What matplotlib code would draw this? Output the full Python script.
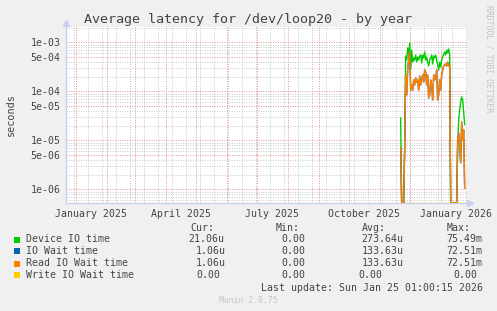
import matplotlib
matplotlib.use('Agg')
import matplotlib.pyplot as plt
from matplotlib.patches import Rectangle
import numpy as np
import pandas as pd

# daily averages in seconds, 2025-11-22 .. 2026-01-25 (nothing before)
days = pd.date_range('2025-11-22', '2026-01-25', freq='D')
device_io = [
    2.88e-5, 0, 0, 0, 7.0e-6, 5.30e-4, 4.40e-4, 7.72e-4, 5.56e-4, 9.77e-4,
    2.75e-4, 7.03e-4, 4.00e-4, 4.83e-4, 4.40e-4, 5.56e-4, 4.00e-4, 5.06e-4, 4.40e-4, 5.30e-4,
    5.56e-4, 3.82e-4, 5.56e-4, 4.83e-4, 6.40e-4, 4.40e-4, 5.06e-4, 4.00e-4, 3.31e-4, 4.40e-4,
    4.83e-4, 5.56e-4, 3.64e-4, 5.30e-4, 4.83e-4, 5.56e-4, 4.40e-4, 3.48e-4, 2.75e-4, 4.00e-4,
    3.16e-4, 4.40e-4, 5.30e-4, 5.56e-4, 6.40e-4, 5.56e-4, 7.03e-4, 6.10e-4, 7.37e-4, 5.82e-4,
    0, 0, 0, 0, 0, 0, 0,
    7.4e-6, 2.62e-5, 4.19e-5, 6.11e-5, 7.73e-5, 6.71e-5, 3.82e-5, 2.106e-5,
]
read_io_wait = [
    7.0e-6, 0, 0, 0, 7.0e-6, 2.07e-4, 8.49e-5, 2.75e-4, 4.40e-4, 6.40e-4,
    1.07e-4, 1.36e-4, 1.07e-4, 1.72e-4, 1.36e-4, 1.89e-4, 1.56e-4, 1.72e-4, 1.07e-4, 2.07e-4,
    1.36e-4, 1.72e-4, 2.17e-4, 1.56e-4, 2.75e-4, 2.50e-4, 1.36e-4, 2.17e-4, 7.37e-5, 8.49e-5,
    1.72e-4, 1.36e-4, 6.71e-5, 2.17e-4, 1.72e-4, 1.89e-4, 2.75e-4, 6.71e-5, 8.49e-5, 1.72e-4,
    1.07e-4, 2.17e-4, 2.75e-4, 3.31e-4, 3.48e-4, 3.64e-4, 3.31e-4, 4.00e-4, 3.31e-4, 3.48e-4,
    0, 0, 0, 0, 0, 0, 0,
    1.02e-5, 1.42e-5, 8.1e-6, 3.5e-6, 2.39e-5, 1.02e-5, 1.64e-5, 1.06e-6,
]
io_wait = list(read_io_wait)
write_io_wait = [0.0] * len(days)

names = ['Device IO time', 'IO Wait time', 'Read IO Wait time', 'Write IO Wait time']
colors = ['#00CC00', '#0066B3', '#FF8000', '#FFCC00']
stats = [
    ['21.06u', '0.00', '273.64u', '75.49m'],
    ['1.06u', '0.00', '133.63u', '72.51m'],
    ['1.06u', '0.00', '133.63u', '72.51m'],
    ['0.00', '0.00', '0.00', '0.00'],
]

yticks = [1e-6, 5e-6, 1e-5, 5e-5, 1e-4, 5e-4, 1e-3]
ytick_labels = ['1e-06', '5e-06', '1e-05', '5e-05', '1e-04', '5e-04', '1e-03']
xlabel_dates = ['2025-01-16', '2025-04-16', '2025-07-16', '2025-10-16', '2026-01-16']
xlabels = ['January 2025', 'April 2025', 'July 2025', 'October 2025', 'January 2026']

ymin, ymax = 5.3e-7, 2.07e-3
W, H = 497, 311
mono = 'DejaVu Sans Mono'
txt = '#444444'

fig = plt.figure(figsize=(W / 100, H / 100), dpi=100, facecolor='#F0F0F0')
ax = fig.add_axes([66 / W, 1 - 203 / H, 401 / W, 176 / H])
ax.set_facecolor('white')
ax.set_yscale('log')
ax.set_xlim(pd.Timestamp('2024-12-22 08:00'), pd.Timestamp('2026-01-27 08:00'))
ax.set_ylim(ymin, ymax)

# grid
dot = (0, (1, 1.5))
for d in pd.date_range('2024-12-30', '2026-01-27', freq='14D'):
    ax.axvline(d, color='#C8C8C8', lw=0.7, ls=dot, zorder=0)
for dec in range(-7, -2):
    for m in [2, 3, 4, 6, 7, 8, 9]:
        ax.axhline(m * 10.0 ** dec, color='#C8C8C8', lw=0.7, ls=dot, zorder=0)
for d in pd.date_range('2025-01-01', '2026-01-01', freq='MS'):
    ax.axvline(d, color='#E89090', lw=0.7, ls=dot, zorder=1)
for v in yticks:
    ax.axhline(v, color='#E89090', lw=0.7, ls=dot, zorder=1)

# series (zeros sit on the bottom edge)
for vals, c in zip([device_io, io_wait, read_io_wait, write_io_wait], colors):
    v = np.array(vals, dtype=float)
    v = np.where(v <= 0, ymin, v)
    ax.plot(days, v, color=c, lw=1.0, zorder=3)

ax.set_yticks(yticks)
ax.set_yticklabels(ytick_labels)
ax.yaxis.set_minor_locator(matplotlib.ticker.NullLocator())
ax.set_xticks([pd.Timestamp(d) for d in xlabel_dates])
ax.set_xticklabels(xlabels)
ax.tick_params(length=0, labelsize=7.1, labelcolor=txt, pad=4)
for lab in ax.get_xticklabels() + ax.get_yticklabels():
    lab.set_fontfamily(mono)

for s in ['top', 'right']:
    ax.spines[s].set_visible(False)
for s in ['left', 'bottom']:
    ax.spines[s].set_color('#C8D0F0')
    ax.spines[s].set_linewidth(1.0)
ax.plot([0], [1.02], marker='^', ms=5, color='#C8D0F0', transform=ax.transAxes, clip_on=False)
ax.plot([1.008], [0], marker='>', ms=5, color='#C8D0F0', transform=ax.transAxes, clip_on=False)


def ftext(x, y, s, **kw):
    kw.setdefault('family', mono)
    kw.setdefault('color', txt)
    kw.setdefault('size', 7.1)
    kw.setdefault('va', 'center')
    fig.text(x / W, 1 - y / H, s, **kw)


ftext(248, 19, 'Average latency for /dev/loop20 - by year', size=9.6, ha='center')
ftext(11, 115, 'seconds', rotation=90, ha='center', size=7.3)
ftext(489, 5, 'RRDTOOL / TOBI OETIKER', rotation=270, ha='center', va='top',
      size=5.9, color='#C4C4C4')

# legend
col_x = [190, 275.3, 361.7, 446.7]
for x, h in zip(col_x, ['Cur:', 'Min:', 'Avg:', 'Max:']):
    ftext(x, 228, h)
row_y = [239.5, 251.3, 263.5, 275.3]
value_x = [
    [188.3, 281.7, 361.7, 446.7],
    [196, 281.7, 361.7, 446.7],
    [196, 281.7, 361.7, 446.7],
    [196, 281.7, 358.3, 453.3],
]
for y, name, c, st, xs in zip(row_y, names, colors, stats, value_x):
    fig.add_artist(Rectangle((14 / W, 1 - (y + 3) / H), 6 / W, 6 / H,
                             transform=fig.transFigure, facecolor=c, edgecolor='none'))
    ftext(26, y, name)
    for x, s in zip(xs, st):
        ftext(x, y, s)
ftext(482.7, 287.7, 'Last update: Sun Jan 25 01:00:15 2026', ha='right')
ftext(248, 300.5, 'Munin 2.0.75', ha='center', size=5.9, color='#C4C4C4')

fig.savefig('out.png', dpi=100, facecolor=fig.get_facecolor())
